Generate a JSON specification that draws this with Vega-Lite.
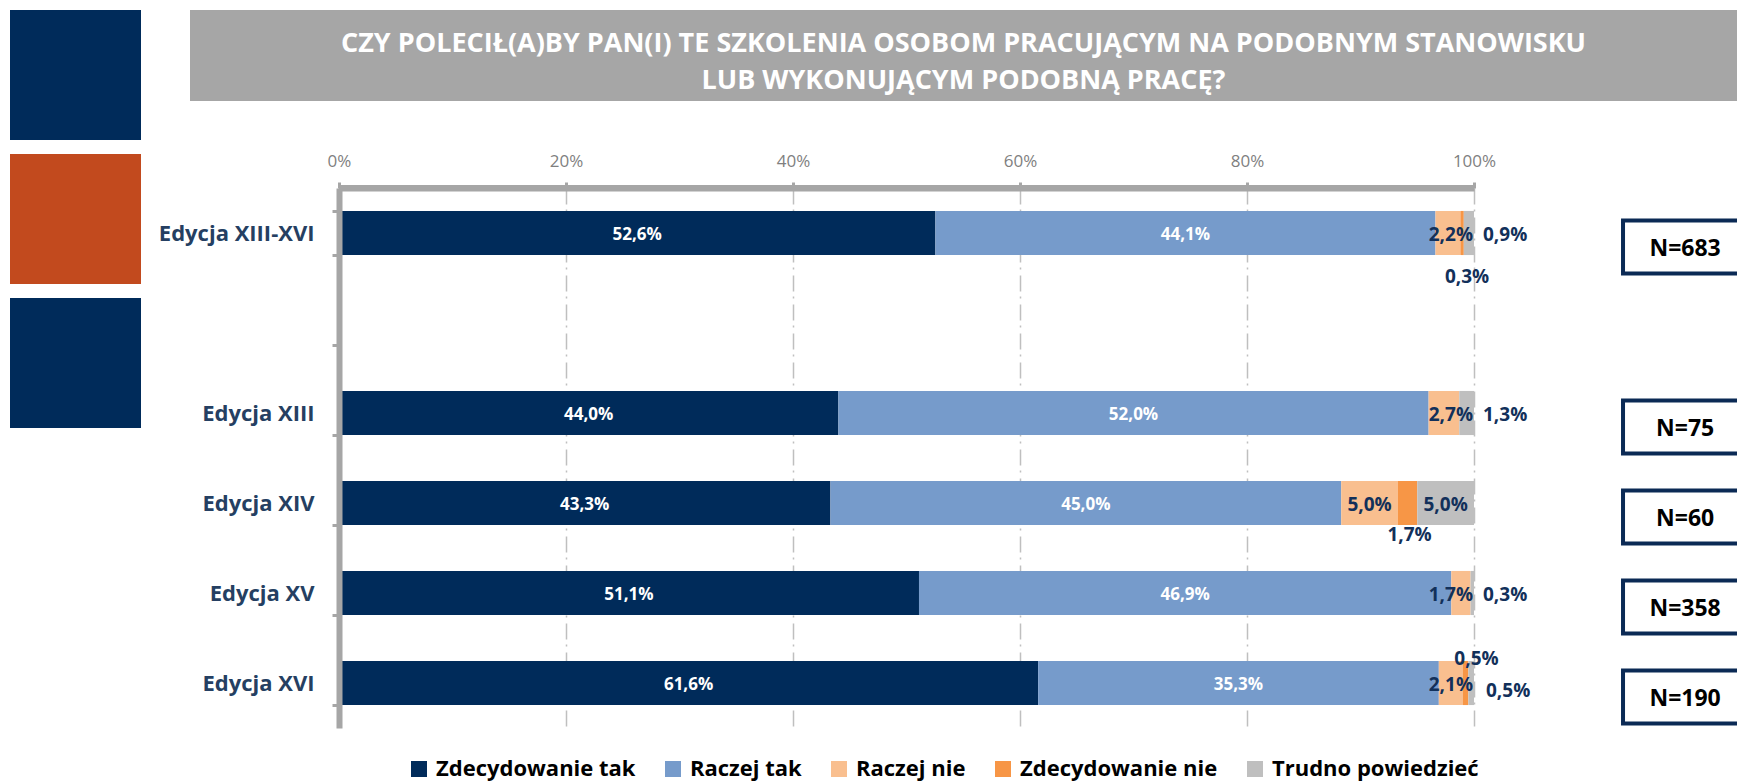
{
  "$schema": "https://vega.github.io/schema/vega-lite/v6.json",
  "background": "white",
  "padding": {"left": 10, "top": 10, "right": 0, "bottom": 8},
  "config": {
    "view": {"stroke": null},
    "font": "Open Sans",
    "locale": {"number": {"decimal": ",", "thousands": " ", "grouping": [3], "currency": ["", " zł"]}}
  },
  "spacing": 17,
  "hconcat": [
    {
      "width": 131,
      "height": 418,
      "data": {"values": [{"k": "a"}, {"k": "b"}, {"k": "c"}]},
      "encoding": {
        "y": {"field": "k", "type": "nominal", "axis": null, "scale": {"domain": ["a", "b", "c"], "paddingInner": 0.0972, "paddingOuter": 0}}
      },
      "layer": [
        {"transform": [{"filter": "datum.k !== 'b'"}], "mark": {"type": "rect", "color": "#002B5A"}},
        {"transform": [{"filter": "datum.k === 'b'"}], "mark": {"type": "rect", "color": "#C24A1E"}}
      ]
    },
    {
      "bounds": "flush",
      "spacing": 87,
      "vconcat": [
        {
          "width": 1547,
          "height": 91,
          "data": {"values": [{"t": "CZY POLECIŁ(A)BY PAN(I) TE SZKOLENIA OSOBOM PRACUJĄCYM NA PODOBNYM STANOWISKU|LUB WYKONUJĄCYM PODOBNĄ PRACĘ?"}]},
          "layer": [
            {"mark": {"type": "rect", "color": "#A6A6A6"}, "encoding": {}},
            {"mark": {"type": "text", "color": "white", "font": "Open Sans", "fontWeight": "bold", "fontSize": 27, "lineBreak": "|", "lineHeight": 37, "align": "center", "baseline": "middle", "dy": -12}, "encoding": {"text": {"field": "t"}}}
          ]
        },
        {
          "width": 1547,
          "height": 540,
          "resolve": {"scale": {"y": "independent"}},
          "layer": [
            {
              "data": {"values": [
                {"ed": "Edycja XIII-XVI", "kat": "Zdecydowanie tak", "o": 0, "v": 0.526},
                {"ed": "Edycja XIII-XVI", "kat": "Raczej tak", "o": 1, "v": 0.441},
                {"ed": "Edycja XIII-XVI", "kat": "Raczej nie", "o": 2, "v": 0.022},
                {"ed": "Edycja XIII-XVI", "kat": "Zdecydowanie nie", "o": 3, "v": 0.003},
                {"ed": "Edycja XIII-XVI", "kat": "Trudno powiedzieć", "o": 4, "v": 0.009},
                {"ed": "Edycja XIII", "kat": "Zdecydowanie tak", "o": 0, "v": 0.44},
                {"ed": "Edycja XIII", "kat": "Raczej tak", "o": 1, "v": 0.52},
                {"ed": "Edycja XIII", "kat": "Raczej nie", "o": 2, "v": 0.027},
                {"ed": "Edycja XIII", "kat": "Trudno powiedzieć", "o": 4, "v": 0.013},
                {"ed": "Edycja XIV", "kat": "Zdecydowanie tak", "o": 0, "v": 0.433},
                {"ed": "Edycja XIV", "kat": "Raczej tak", "o": 1, "v": 0.45},
                {"ed": "Edycja XIV", "kat": "Raczej nie", "o": 2, "v": 0.05},
                {"ed": "Edycja XIV", "kat": "Zdecydowanie nie", "o": 3, "v": 0.017},
                {"ed": "Edycja XIV", "kat": "Trudno powiedzieć", "o": 4, "v": 0.05},
                {"ed": "Edycja XV", "kat": "Zdecydowanie tak", "o": 0, "v": 0.511},
                {"ed": "Edycja XV", "kat": "Raczej tak", "o": 1, "v": 0.469},
                {"ed": "Edycja XV", "kat": "Raczej nie", "o": 2, "v": 0.017},
                {"ed": "Edycja XV", "kat": "Trudno powiedzieć", "o": 4, "v": 0.003},
                {"ed": "Edycja XVI", "kat": "Zdecydowanie tak", "o": 0, "v": 0.616},
                {"ed": "Edycja XVI", "kat": "Raczej tak", "o": 1, "v": 0.353},
                {"ed": "Edycja XVI", "kat": "Raczej nie", "o": 2, "v": 0.021},
                {"ed": "Edycja XVI", "kat": "Zdecydowanie nie", "o": 3, "v": 0.005},
                {"ed": "Edycja XVI", "kat": "Trudno powiedzieć", "o": 4, "v": 0.005}
              ]},
              "encoding": {
                "y": {
                  "field": "ed", "type": "nominal",
                  "scale": {"domain": ["Edycja XIII-XVI", " ", "Edycja XIII", "Edycja XIV", "Edycja XV", "Edycja XVI"], "paddingInner": 0.51, "paddingOuter": 0.255},
                  "axis": {"orient": "left", "offset": -149, "title": null, "zindex": 1, "domainColor": "#A6A6A6", "domainWidth": 6, "tickBand": "extent", "tickColor": "#A6A6A6", "tickWidth": 3, "tickSize": 7, "labelFont": "Open Sans", "labelFontWeight": "bold", "labelFontSize": 22, "labelColor": "#253F62", "labelPadding": 18, "labelLimit": 400}
                },
                "order": {"field": "o", "type": "quantitative"}
              },
              "layer": [
                {
                  "mark": {"type": "bar"},
                  "encoding": {
                    "x": {
                      "field": "v", "type": "quantitative", "stack": "normalize",
                      "scale": {"domain": [0, 1], "rangeMin": 149, "rangeMax": 1284, "nice": false},
                      "axis": {"orient": "top", "values": [0, 0.2, 0.4, 0.6, 0.8, 1], "format": ".0%", "title": null, "labelFlush": false, "labelColor": "#7F7F7F", "labelFontSize": 17, "labelFont": "Open Sans", "labelPadding": 12, "domain": true, "domainColor": "#A6A6A6", "domainWidth": 6, "ticks": true, "tickColor": "#A6A6A6", "tickWidth": 3, "tickSize": 6, "grid": true, "gridColor": "#BFBFBF", "gridWidth": 1.5, "gridDash": [16, 5, 2, 6]}
                    },
                    "color": {
                      "field": "kat", "type": "nominal",
                      "scale": {"domain": ["Zdecydowanie tak", "Raczej tak", "Raczej nie", "Zdecydowanie nie", "Trudno powiedzieć"], "range": ["#002B5A", "#769BCB", "#F9BF8F", "#F79646", "#BFBFBF"]},
                      "legend": {"orient": "none", "legendX": 398, "legendY": 748, "direction": "horizontal", "title": null, "symbolType": "square", "symbolSize": 256, "symbolStrokeWidth": 0, "labelFont": "Open Sans", "labelFontWeight": "bold", "labelFontSize": 22, "labelColor": "#000000", "labelLimit": 400, "columnPadding": 26, "labelOffset": 6, "padding": 0}
                    }
                  }
                },
                {
                  "mark": {"type": "text", "color": "white", "fontWeight": "bold", "fontSize": 17, "baseline": "middle", "dy": 2},
                  "encoding": {
                    "detail": {"field": "kat"},
                    "x": {"field": "v", "type": "quantitative", "stack": "normalize", "bandPosition": 0.5},
                    "text": {"condition": {"test": "datum.o <= 1", "field": "v", "type": "quantitative", "format": ".1%"}, "value": ""}
                  }
                },
                {
                  "mark": {"type": "text", "color": "#12305A", "fontWeight": "bold", "fontSize": 19, "baseline": "middle", "dy": 2},
                  "encoding": {
                    "detail": {"field": "kat"},
                    "x": {"field": "v", "type": "quantitative", "stack": "normalize", "bandPosition": 0.5},
                    "text": {"condition": {"test": "datum.o === 4 && datum.v >= 0.03 || (datum.o === 2 && datum.v >= 0.03)", "field": "v", "type": "quantitative", "format": ".1%"}, "value": ""}
                  }
                },
                {
                  "mark": {"type": "text", "color": "#12305A", "fontWeight": "bold", "fontSize": 19, "baseline": "middle", "align": "right", "dx": -1, "dy": 2},
                  "encoding": {
                    "x": {"datum": 1, "type": "quantitative"},
                    "text": {"condition": {"test": "datum.o === 2 && datum.v < 0.03", "field": "v", "type": "quantitative", "format": ".1%"}, "value": ""}
                  }
                },
                {
                  "mark": {"type": "text", "color": "#12305A", "fontWeight": "bold", "fontSize": 19, "baseline": "middle", "align": "left", "dx": 9, "dy": 2},
                  "encoding": {
                    "detail": {"field": "kat"},
                    "x": {"field": "v", "type": "quantitative", "stack": "normalize", "bandPosition": 1},
                    "text": {"condition": {"test": "datum.o === 4 && datum.v < 0.03 && datum.ed !== 'Edycja XVI'", "field": "v", "type": "quantitative", "format": ".1%"}, "value": ""}
                  }
                },
                {
                  "mark": {"type": "text", "color": "#12305A", "fontWeight": "bold", "fontSize": 19, "baseline": "middle", "align": "left", "dx": 12, "dy": 8},
                  "encoding": {
                    "detail": {"field": "kat"},
                    "x": {"field": "v", "type": "quantitative", "stack": "normalize", "bandPosition": 1},
                    "text": {"condition": {"test": "datum.o === 4 && datum.v < 0.03 && datum.ed === 'Edycja XVI'", "field": "v", "type": "quantitative", "format": ".1%"}, "value": ""}
                  }
                },
                {
                  "mark": {"type": "text", "color": "#12305A", "fontWeight": "bold", "fontSize": 19, "baseline": "middle", "dx": 5, "dy": 44},
                  "encoding": {
                    "detail": {"field": "kat"},
                    "x": {"field": "v", "type": "quantitative", "stack": "normalize", "bandPosition": 0.5},
                    "text": {"condition": {"test": "datum.o === 3 && datum.ed === 'Edycja XIII-XVI'", "field": "v", "type": "quantitative", "format": ".1%"}, "value": ""}
                  }
                },
                {
                  "mark": {"type": "text", "color": "#12305A", "fontWeight": "bold", "fontSize": 19, "baseline": "middle", "dx": 2, "dy": 32},
                  "encoding": {
                    "detail": {"field": "kat"},
                    "x": {"field": "v", "type": "quantitative", "stack": "normalize", "bandPosition": 0.5},
                    "text": {"condition": {"test": "datum.o === 3 && datum.ed === 'Edycja XIV'", "field": "v", "type": "quantitative", "format": ".1%"}, "value": ""}
                  }
                },
                {
                  "mark": {"type": "text", "color": "#12305A", "fontWeight": "bold", "fontSize": 19, "baseline": "middle", "dx": 11, "dy": -24},
                  "encoding": {
                    "detail": {"field": "kat"},
                    "x": {"field": "v", "type": "quantitative", "stack": "normalize", "bandPosition": 0.5},
                    "text": {"condition": {"test": "datum.o === 3 && datum.ed === 'Edycja XVI'", "field": "v", "type": "quantitative", "format": ".1%"}, "value": ""}
                  }
                }
              ]
            },
            {
              "data": {"values": [
                {"ed": "Edycja XIII-XVI", "N": "N=683"},
                {"ed": "Edycja XIII", "N": "N=75"},
                {"ed": "Edycja XIV", "N": "N=60"},
                {"ed": "Edycja XV", "N": "N=358"},
                {"ed": "Edycja XVI", "N": "N=190"}
              ]},
              "encoding": {
                "y": {"field": "ed", "type": "nominal", "axis": null, "scale": {"domain": ["Edycja XIII-XVI", " ", "Edycja XIII", "Edycja XIV", "Edycja XV", "Edycja XVI"], "paddingInner": 0.411, "paddingOuter": 0.2056, "align": 0.878}}
              },
              "layer": [
                {
                  "mark": {"type": "rect", "fill": "white", "stroke": "#0B2A55", "strokeWidth": 4, "clip": true},
                  "encoding": {"x": {"datum": 1.1313, "type": "quantitative"}, "x2": {"datum": 1.26}}
                },
                {
                  "mark": {"type": "text", "fontSize": 23, "fontWeight": "bold", "color": "#000000", "baseline": "middle", "dy": 2},
                  "encoding": {"x": {"datum": 1.186, "type": "quantitative"}, "text": {"field": "N"}}
                }
              ]
            },
            {
              "data": {"values": [
                {"ed": "Edycja XIII-XVI", "N": "N=683"},
                {"ed": "Edycja XIII", "N": "N=75"},
                {"ed": "Edycja XIV", "N": "N=60"},
                {"ed": "Edycja XV", "N": "N=358"},
                {"ed": "Edycja XVI", "N": "N=190"}
              ]},
              "transform": [{"filter": "datum.ed === 'Edycja XIII-XVI'"}],
              "mark": {"type": "rule", "color": "#A6A6A6", "strokeWidth": 6},
              "encoding": {
                "x": {"datum": 0, "type": "quantitative"},
                "x2": {"datum": 1},
                "y": {"field": "ed", "type": "nominal", "axis": null, "bandPosition": 0, "scale": {"domain": ["Edycja XIII-XVI", " ", "Edycja XIII", "Edycja XIV", "Edycja XV", "Edycja XVI"], "paddingInner": 0, "paddingOuter": 0}}
              }
            }
          ]
        }
      ]
    }
  ]
}
